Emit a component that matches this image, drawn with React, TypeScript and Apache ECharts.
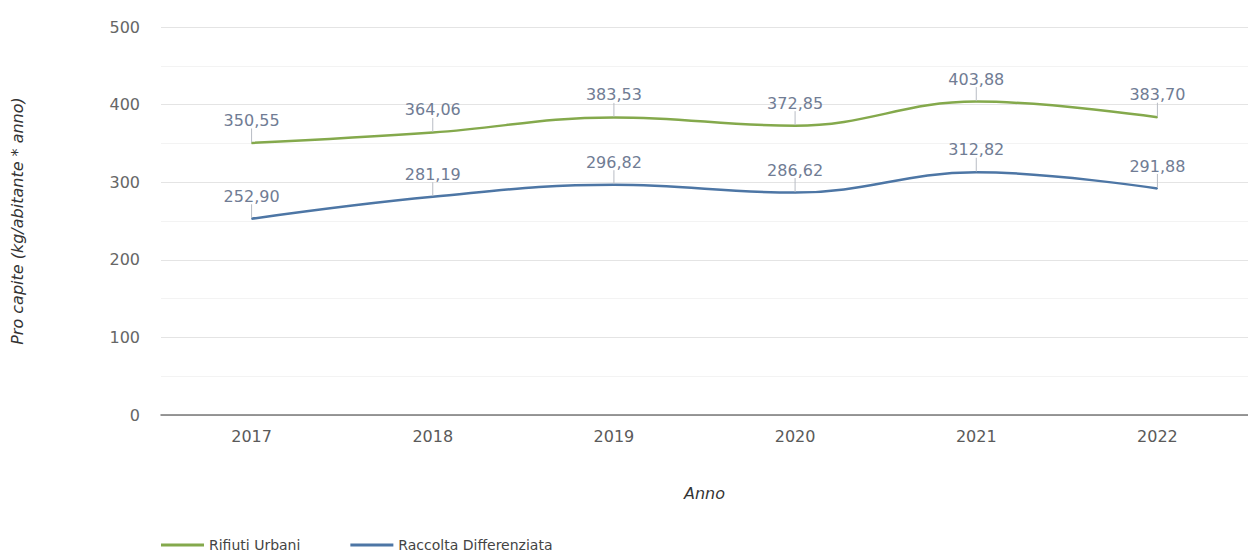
import React, { useEffect, useRef } from "react";
import * as echarts from "echarts";

const categories = ["2017", "2018", "2019", "2020", "2021", "2022"];
const rifiutiUrbani = [350.55, 364.06, 383.53, 372.85, 403.88, 383.7];
const raccoltaDifferenziata = [252.9, 281.19, 296.82, 286.62, 312.82, 291.88];
const seriesNames = ["Rifiuti Urbani", "Raccolta Differenziata"];
const colors = ["#84a94c", "#4d76a5"];

const fmt = (v: number) => v.toFixed(2).replace(".", ",");

export default function App() {
  const ref = useRef<HTMLDivElement>(null);
  useEffect(() => {
    if (!ref.current) return;
    const chart = echarts.init(ref.current, null, { renderer: "svg" });
    const font = "DejaVu Sans, sans-serif";
    const mkSeries = (name: string, data: number[], color: string) => ({
      name,
      type: "line",
      data,
      smooth: 0.4,
      symbol: "circle",
      symbolSize: 1,
      showSymbol: true,
      lineStyle: { color, width: 2.5 },
      itemStyle: { color },
      label: {
        show: true,
        position: "top",
        distance: 4,
        color: "#707c94",
        fontSize: 16,
        fontFamily: font,
        formatter: (p: any) => fmt(p.value),
      },
      labelLayout: { dy: -10 },
      labelLine: { show: true, length2: 0, lineStyle: { color: "#b8bcc4", width: 1 } },
    });
    chart.setOption({
      animation: false,
      textStyle: { fontFamily: font },
      grid: { left: 161, right: -8, top: 27, bottom: 143 },
      legend: {
        left: 156,
        bottom: 1,
        itemWidth: 43,
        itemHeight: 3,
        itemGap: 50,
        icon: "rect",
        textStyle: { color: "#444", fontSize: 14, fontFamily: font },
        data: seriesNames,
      },
      xAxis: {
        type: "category",
        data: categories,
        name: "Anno",
        nameLocation: "middle",
        nameGap: 70,
        nameTextStyle: { fontStyle: "italic", color: "#333", fontSize: 16 },
        axisLine: { lineStyle: { color: "#777", width: 1.5 } },
        axisTick: { show: false },
        axisLabel: { color: "#5a5a5a", fontSize: 16, margin: 13 },
      },
      yAxis: {
        type: "value",
        min: 0,
        max: 500,
        interval: 100,
        name: "Pro capite (kg/abitante * anno)",
        nameLocation: "middle",
        nameGap: 136,
        nameTextStyle: { fontStyle: "italic", color: "#333", fontSize: 16 },
        axisLabel: { color: "#666", fontSize: 16, margin: 21 },
        splitLine: { lineStyle: { color: "#e4e4e4" } },
        minorTick: { show: false, splitNumber: 2 },
        minorSplitLine: { show: true, lineStyle: { color: "#f3f3f3" } },
      },
      series: [
        mkSeries(seriesNames[0], rifiutiUrbani, colors[0]),
        mkSeries(seriesNames[1], raccoltaDifferenziata, colors[1]),
      ],
    });
    return () => chart.dispose();
  }, []);
  return (
    <div
      ref={ref}
      style={{ position: "absolute", left: 0, top: 0, width: 1248, height: 558, background: "#fff" }}
    />
  );
}
